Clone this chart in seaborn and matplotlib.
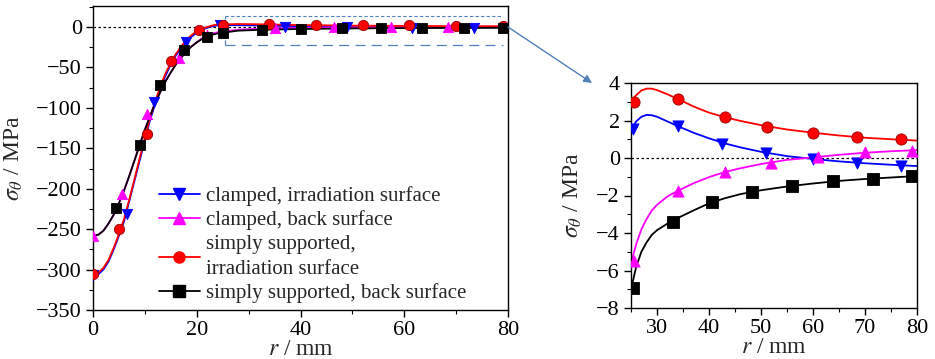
import matplotlib
matplotlib.use("Agg")
import matplotlib.pyplot as plt
import seaborn as sns
import pandas as pd
from matplotlib.lines import Line2D
from matplotlib.patches import ConnectionPatch
from matplotlib.ticker import MultipleLocator

# ---------------- data ----------------
labels = ["clamped, irradiation surface", "clamped, back surface",
          "simply supported,\nirradiation surface", "simply supported, back surface"]
colors = ["#0000ff", "#ff00ff", "#ff0000", "#000000"]
markers = ["v", "^", "o", "s"]

# left panel: fitted curves
r_curve_left = [0, 1, 2, 3, 4, 5, 6, 7, 8, 9, 10, 11, 12, 13, 14, 15, 16, 17, 18, 19,
                20, 21, 22, 23, 24, 25, 28, 32, 40, 50, 60, 70, 80]
blue_curve_left = [-307, -306, -300, -290, -275, -258, -240, -215, -190, -165, -140, -115,
                   -95, -76, -60, -46, -35, -26, -18, -12, -7, -3, -1, 1, 2, 2.3, 2.3, 1.9,
                   1.0, 0.3, -0.05, -0.28, -0.43]
magenta_curve_left = [-258, -257, -252, -243, -232, -218, -202, -184, -165, -146, -127, -110,
                      -94, -80, -67, -56, -46, -38, -30, -24, -19, -14, -11, -8, -6.5, -5.5,
                      -3.3, -2.1, -1.0, -0.3, 0.03, 0.28, 0.42]
red_curve_left = [-305, -304, -298, -288, -273, -256, -237, -213, -188, -162, -137, -112,
                  -92, -73, -57, -44, -33, -24, -16, -10, -5, -2, 0, 2, 3, 3.2, 3.7, 3.4,
                  2.4, 1.75, 1.35, 1.08, 0.93]
black_curve_left = [-258, -257, -252, -243, -232, -218, -202, -184, -165, -146, -127, -110,
                    -94, -80, -67, -56, -46, -38, -30, -24, -19, -15, -12, -9.5, -8, -7,
                    -4.5, -3.5, -2.4, -1.72, -1.36, -1.12, -0.96]

# left panel: markers
blue_r_left = [0, 6.5, 11.8, 18, 24.5, 37, 49, 61.5, 73.5]
blue_s_left = [-307, -231, -93, -18, 2, 0.5, -0.5, -1, -1]
magenta_r_left = [0, 5.5, 10.5, 16.5, 22, 35, 46.5, 57.5, 68.5, 79]
magenta_s_left = [-258, -207, -108, -38, -10, -1.5, 0, 0, 0.3, 0.4]
red_r_left = [0, 5, 10.5, 15, 20.5, 25, 34, 43, 52, 61, 70, 79]
red_s_left = [-305, -250, -132, -42, -4, 3, 4, 3, 2, 2, 1.5, 1]
black_r_left = [4.5, 9, 13, 17.5, 22, 25, 32.5, 40, 48, 55.5, 63.5, 71.5, 79]
black_s_left = [-224, -146, -72, -29, -12, -7, -3.4, -2.4, -1.8, -1.5, -1.3, -1.1, -1]

# right panel: fitted curves
r_curve_right = [25, 26, 27, 28, 29, 30, 32, 34, 37, 40, 43, 46, 50, 55, 60, 65, 70, 75, 80]
red_curve_right = [3.0, 3.35, 3.6, 3.7, 3.7, 3.62, 3.4, 3.15, 2.75, 2.42, 2.18, 1.98, 1.75,
                   1.52, 1.35, 1.2, 1.08, 1.0, 0.93]
blue_curve_right = [1.5, 1.95, 2.2, 2.3, 2.28, 2.2, 1.95, 1.7, 1.35, 1.05, 0.78, 0.57, 0.33,
                    0.1, -0.05, -0.18, -0.28, -0.36, -0.43]
magenta_curve_right = [-5.6, -4.6, -3.8, -3.25, -2.8, -2.5, -2.05, -1.75, -1.35, -1.02, -0.75,
                       -0.55, -0.32, -0.1, 0.03, 0.17, 0.28, 0.36, 0.42]
black_curve_right = [-7.0, -5.8, -5.0, -4.5, -4.1, -3.85, -3.5, -3.2, -2.8, -2.42, -2.15,
                     -1.93, -1.72, -1.52, -1.36, -1.22, -1.12, -1.04, -0.96]

# right panel: markers
blue_r_right = [25.3, 34, 42.5, 51, 60, 68.5, 77]
blue_s_right = [1.55, 1.7, 0.75, 0.25, -0.05, -0.28, -0.4]
magenta_r_right = [25.5, 34, 43, 52, 61, 70, 79]
magenta_s_right = [-5.5, -1.75, -0.75, -0.25, 0.05, 0.3, 0.4]
red_r_right = [25.5, 34, 43, 51.2, 60, 68.5, 77]
red_s_right = [3.0, 3.15, 2.2, 1.65, 1.35, 1.12, 1.0]
black_r_right = [25.3, 33, 40.5, 48.3, 56, 63.8, 71.5, 79]
black_s_right = [-6.95, -3.4, -2.35, -1.8, -1.48, -1.25, -1.1, -0.98]

# ---------------- styling ----------------
sns.set_theme(style="ticks")
plt.rcParams["font.family"] = ["Liberation Serif", "DejaVu Serif"]
plt.rcParams["mathtext.fontset"] = "stix"
plt.rcParams["axes.unicode_minus"] = True

fig = plt.figure(figsize=(9.35, 3.59), dpi=100)
W, H = 935, 359
ax1 = fig.add_axes([93 / W, 1 - 310 / H, (508 - 93) / W, (310 - 6) / H])
ax2 = fig.add_axes([631 / W, 1 - 308 / H, (917 - 631) / W, (308 - 83) / H])

left_curves = [blue_curve_left, magenta_curve_left, red_curve_left, black_curve_left]
left_pts = [(blue_r_left, blue_s_left), (magenta_r_left, magenta_s_left),
            (red_r_left, red_s_left), (black_r_left, black_s_left)]
right_curves = [blue_curve_right, magenta_curve_right, red_curve_right, black_curve_right]
right_pts = [(blue_r_right, blue_s_right), (magenta_r_right, magenta_s_right),
             (red_r_right, red_s_right), (black_r_right, black_s_right)]

def draw(ax, rc, curves, pts, ms):
    ax.axhline(0, color="black", lw=0.9, ls=(0, (2, 2)), zorder=1)
    for i in range(4):
        df = pd.DataFrame({"r": rc, "s": curves[i]})
        sns.lineplot(data=df, x="r", y="s", ax=ax, color=colors[i], lw=1.3,
                     estimator=None, sort=False, zorder=2)
        dp = pd.DataFrame({"r": pts[i][0], "s": pts[i][1]})
        ec = "#990000" if i == 2 else colors[i]
        sns.scatterplot(data=dp, x="r", y="s", ax=ax, color=colors[i], marker=markers[i],
                        s=ms, edgecolor=ec, linewidth=0.6, zorder=3)

draw(ax1, r_curve_left, left_curves, left_pts, 55)
draw(ax2, r_curve_right, right_curves, right_pts, 65)

for ax in (ax1, ax2):
    for sp in ax.spines.values():
        sp.set_visible(True)
        sp.set_linewidth(1.0)
        sp.set_color("black")
    ax.tick_params(which="both", direction="out", top=False, right=False,
                   labelsize=16, colors="black", pad=3)
    ax.tick_params(which="major", length=5, width=1.0)
    ax.tick_params(which="minor", length=3, width=0.8)

ax1.set_xlim(0, 80)
ax1.set_ylim(-350, 26)
ax1.set_xticks([0, 20, 40, 60, 80])
ax1.set_yticks([-350, -300, -250, -200, -150, -100, -50, 0])
ax1.xaxis.set_minor_locator(MultipleLocator(10))
ax1.yaxis.set_minor_locator(MultipleLocator(25))
ax1.set_xlabel("$r$ / mm", fontsize=17, labelpad=-1)
ax1.set_ylabel(r"$\sigma_\theta$ / MPa", fontsize=17, labelpad=8)

ax2.set_xlim(25, 80)
ax2.set_ylim(-8, 4)
ax2.set_xticks([30, 40, 50, 60, 70, 80])
ax2.set_yticks([-8, -6, -4, -2, 0, 2, 4])
ax2.xaxis.set_minor_locator(MultipleLocator(5))
ax2.yaxis.set_minor_locator(MultipleLocator(1))
ax2.set_xlabel("$r$ / mm", fontsize=17, labelpad=-1)
ax2.set_ylabel(r"$\sigma_\theta$ / MPa", fontsize=17, labelpad=9)

# zoom box and arrow
box_col = "#4f81bd"
ax1.plot([25.5, 79], [14, 14], color=box_col, lw=0.8, ls=(0, (3, 2)), zorder=1)
ax1.plot([25.5, 79], [-22, -22], color=box_col, lw=0.9, ls=(0, (8, 5)), zorder=1)
ax1.plot([25.5, 25.5], [-22, 14], color=box_col, lw=0.9, ls=(0, (4, 3)), zorder=1)
con = ConnectionPatch(xyA=(80, 0), coordsA=ax1.transData,
                      xyB=(592 / W, 1 - 83 / H), coordsB=fig.transFigure,
                      arrowstyle="-|>", color=box_col, lw=1.0, mutation_scale=12)
fig.add_artist(con)

handles = [Line2D([0], [0], color=colors[i], marker=markers[i], markersize=8, lw=1.3,
                  markeredgecolor=colors[i]) for i in range(4)]
leg = ax1.legend(handles, labels, loc="upper left",
                 bbox_to_anchor=(146 / W, 1 - 174 / H), bbox_transform=fig.transFigure,
                 frameon=False, fontsize=15, handlelength=2.0, handletextpad=0.3,
                 labelspacing=0.2, borderpad=0.1)
for t in leg.get_texts():
    t.set_linespacing(1.45)

fig.savefig("out.png", dpi=100)
